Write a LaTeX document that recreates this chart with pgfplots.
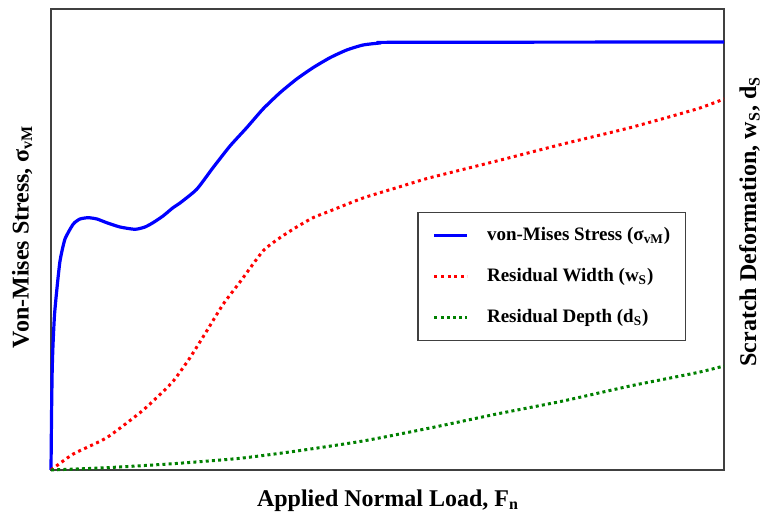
\documentclass[border=0pt]{standalone}
\usepackage{pgfplots}
\pgfplotsset{compat=1.18}
\usepackage{fontspec}
\setmainfont{Liberation Serif}
\newcommand{\lab}{\fontsize{12}{14}\selectfont\bfseries}
\definecolor{dgreen}{RGB}{0,128,0}
\begin{document}
\begin{tikzpicture}
\begin{axis}[
  scale only axis,
  width=336.5pt, height=230.5pt,
  xmin=0, xmax=673, ymin=0, ymax=461,
  xtick=\empty, ytick=\empty,
  axis line style={black!75, line width=0.75pt},
  clip=false,
  legend style={
    at={(0.544,0.5597)}, anchor=north west,
    draw=black!75, line width=0.75pt, fill=white,
    font=\fontsize{9.5}{11}\selectfont\bfseries,
    inner xsep=7.5pt, inner ysep=1.25pt,
    row sep=0pt,
    nodes={inner sep=0pt, minimum height=20.5pt},
  },
  legend cell align=left,
  legend image code/.code={\draw[#1] (0pt,0pt) -- (16.5pt,0pt); \path (25.5pt,0pt);},
]
\addplot[blue, line width=1.6pt, line join=round, smooth, tension=0.35] coordinates {
(0,0) (0.6,60) (1.2,100) (2,125) (3.5,155) (5.7,179) (9,209) (14,231) (22.3,246)
(29,251) (37.3,252.3) (46,251) (55.7,247.3) (69,243) (84,240.7) (94,243)
(102,247.3) (112,254) (122,262.3) (129,267) (145.7,280.7) (162,302.3) (179,324)
(195.7,342.3) (212,361) (229,377.3) (245.7,391) (262,402.3) (279,412.3)
(295.7,420) (312,425) (329,427) (345.7,427.7) (673,428)
};
\addlegendentry{von-Mises Stress (σ\textsubscript{vM})\hspace{3pt}}
\addplot[red, line width=1.5pt, dash pattern=on 1.5pt off 1.8pt, smooth, tension=0.35] coordinates {
(0,0) (22.3,16) (55.7,32.3) (89,57.3) (105.7,72.3) (122.3,89) (139,112.3)
(155.7,139) (172.3,166) (189,188) (212,219) (229,232.3) (245.7,243) (262,252.3)
(279,259) (295.7,265.7) (312,272) (329,277.3) (345.7,282.3) (362,287.3)
(379,292.3) (445.7,309) (512,326) (579,342.3) (645.7,361) (673,371)
};
\addlegendentry{Residual Width (w\textsubscript{S})}
\addplot[dgreen, line width=1.5pt, dash pattern=on 1.5pt off 1.6pt, smooth, tension=0.35] coordinates {
(0,0) (55.7,2.3) (122,6.3) (189,11.7) (245.7,19) (312,29) (379,42) (445.7,56)
(512,69) (579,84) (645.7,97.3) (673,104)
};
\addlegendentry{Residual Depth (d\textsubscript{S})}
\node[rotate=90, anchor=base, font=\lab] at ([xshift=-11.25pt]rel axis cs:0,0.5065)
  {Von-Mises Stress, σ\textsubscript{vM}};
\node[rotate=90, anchor=base, font=\lab] at ([xshift=16pt]rel axis cs:1,0.539)
  {Scratch Deformation, w\textsubscript{S}, d\textsubscript{S}};
\node[anchor=base, font=\lab] at ([yshift=-18pt]rel axis cs:0.5007,0)
  {Applied Normal Load, F\textsubscript{n}};
\end{axis}
\pgfresetboundingbox
\path (-25.5pt,-23pt) rectangle (358pt,235pt);
\end{tikzpicture}
\end{document}
